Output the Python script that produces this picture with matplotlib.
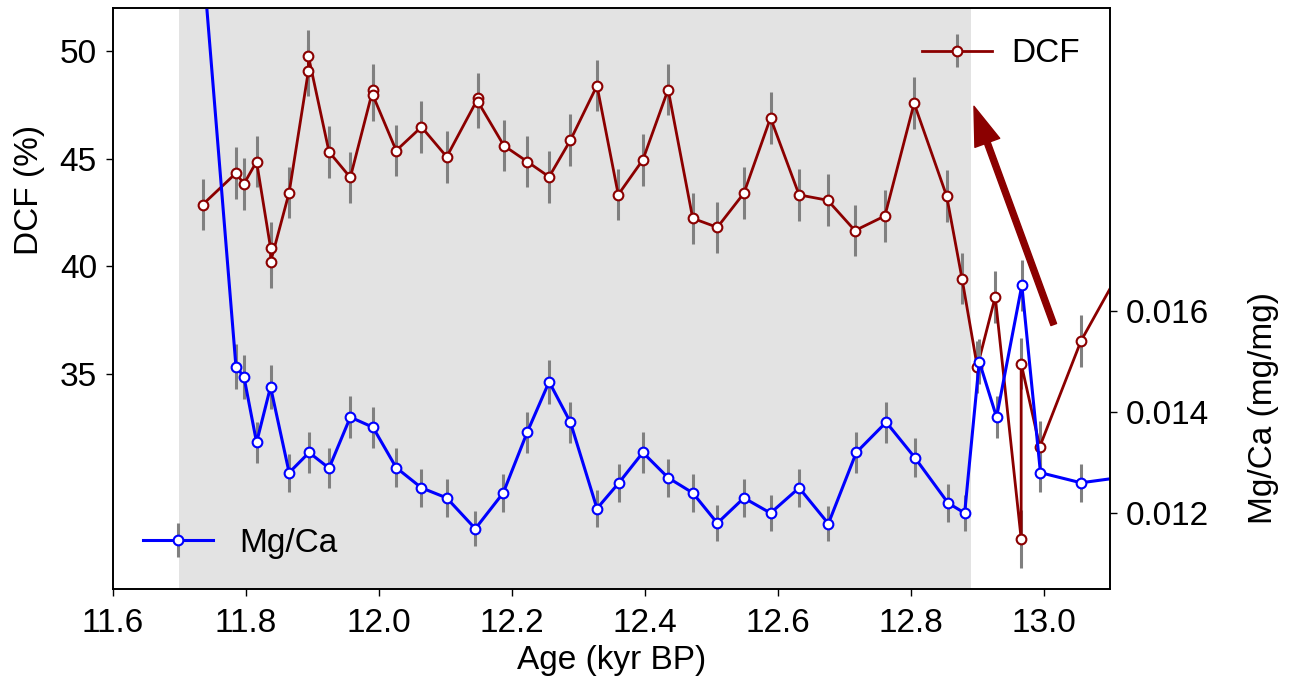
import numpy as np
import matplotlib as mpl
mpl.use('Agg')
import matplotlib.pyplot as plt

plt.rcParams['font.family'] = ['Liberation Sans', 'DejaVu Sans']

# DCF record
dcf_age = [11.735, 11.785, 11.797, 11.816, 11.837, 11.837, 11.865, 11.894, 11.894, 11.925,
           11.957, 11.991, 11.991, 12.026, 12.064, 12.102, 12.149, 12.149, 12.188, 12.223,
           12.256, 12.288, 12.328, 12.360, 12.397, 12.435, 12.472, 12.509, 12.549, 12.589,
           12.632, 12.675, 12.716, 12.761, 12.805, 12.854, 12.877, 12.900, 12.927, 12.966,
           12.966, 12.994, 13.056, 13.14]
dcf = [42.87, 44.33, 43.83, 44.87, 40.86, 40.19, 43.43, 49.10, 49.77, 45.32,
       44.13, 48.22, 47.95, 45.38, 46.48, 45.09, 47.81, 47.65, 45.61, 44.87,
       44.16, 45.86, 48.40, 43.33, 44.95, 48.22, 42.23, 41.81, 43.40, 46.90,
       43.32, 43.07, 41.66, 42.34, 47.58, 43.26, 39.43, 35.32, 38.58, 27.32,
       35.47, 31.61, 36.53, 41.2]
dcf_err = [1.2, 1.2, 1.2, 1.2, 1.2, 1.2, 1.2, 1.2, 1.2, 1.2,
           1.2, 1.2, 1.2, 1.2, 1.2, 1.2, 1.2, 1.2, 1.2, 1.2,
           1.2, 1.2, 1.2, 1.2, 1.2, 1.2, 1.2, 1.2, 1.2, 1.2,
           1.2, 1.2, 1.2, 1.2, 1.2, 1.2, 1.2, 1.2, 1.2, 1.35,
           1.2, 1.2, 1.2, 1.2]

# Mg/Ca record
mg_age = [11.735, 11.785, 11.797, 11.816, 11.837, 11.865, 11.895, 11.925, 11.957, 11.991,
          12.026, 12.064, 12.102, 12.145, 12.187, 12.223, 12.256, 12.288, 12.328, 12.361,
          12.397, 12.435, 12.472, 12.509, 12.549, 12.589, 12.632, 12.676, 12.718, 12.763,
          12.806, 12.856, 12.881, 12.903, 12.929, 12.967, 12.995, 13.056, 13.14]
mg = [0.0230, 0.01490, 0.01470, 0.01340, 0.01450, 0.01280, 0.01320, 0.01289, 0.01390, 0.01370,
      0.01290, 0.01250, 0.01230, 0.01169, 0.01240, 0.01360, 0.01460, 0.01380, 0.01209, 0.01260,
      0.01320, 0.01270, 0.01240, 0.01180, 0.01230, 0.01200, 0.01250, 0.01179, 0.01320, 0.01380,
      0.01310, 0.01220, 0.01200, 0.01500, 0.01390, 0.01651, 0.01280, 0.01260, 0.01275]
mg_err = [0.00069, 0.00045, 0.00044, 0.00040, 0.00044, 0.00038, 0.00040, 0.00039, 0.00042, 0.00041,
          0.00039, 0.00038, 0.00037, 0.00035, 0.00037, 0.00041, 0.00044, 0.00041, 0.00036, 0.00038,
          0.00040, 0.00038, 0.00037, 0.00035, 0.00037, 0.00036, 0.00038, 0.00035, 0.00040, 0.00041,
          0.00039, 0.00037, 0.00036, 0.00045, 0.00042, 0.00050, 0.00038, 0.00038, 0.00038]

xticks = [11.6, 11.8, 12.0, 12.2, 12.4, 12.6, 12.8, 13.0]
dcf_ticks = [35, 40, 45, 50]
mg_ticks = [0.012, 0.014, 0.016]
shade = (11.7, 12.89)

red = '#8B0000'
blue = '#0000FF'
fs = 24

fig = plt.figure(figsize=(12.91, 6.76), dpi=100)
ax = fig.add_axes([0.0875, 0.129, 0.7725, 0.8588])
ax.axvspan(shade[0], shade[1], color='#e3e3e3', lw=0, zorder=0)

l1 = ax.errorbar(dcf_age, dcf, yerr=dcf_err, fmt='-o', color=red, lw=2, ms=7,
                 mfc='white', mec=red, mew=1.5, ecolor='#808080', elinewidth=2.2)
ax.set_xlim(11.6, 13.1)
ax.set_ylim(25, 52)
ax.set_xticks(xticks)
ax.set_xticklabels(['%.1f' % t for t in xticks])
ax.set_yticks(dcf_ticks)
ax.set_xlabel('Age (kyr BP)', fontsize=fs, labelpad=4)
ax.set_ylabel('DCF (%)', fontsize=fs)
ax.yaxis.set_label_coords(-0.068, 0.687)
ax.tick_params(labelsize=fs, length=5, width=1)
ax.tick_params(axis='y', pad=6.5)
ax.tick_params(axis='x', pad=9)

ax.annotate('', xy=(12.895, 47.44), xytext=(13.015, 37.29),
            arrowprops=dict(color=red, width=4.3, headwidth=19, headlength=28, shrink=0))

ax.legend([l1], ['DCF'], loc='upper right', frameon=False,
          fontsize=fs, handlelength=2.1, handletextpad=0.6)

ax2 = ax.twinx()
l2 = ax2.errorbar(mg_age, mg, yerr=mg_err, fmt='-o', color=blue, lw=2.2, ms=7,
                  mfc='white', mec=blue, mew=1.5, ecolor='#808080', elinewidth=2.2)
ax2.set_ylim(0.0105, 0.0220)
ax2.set_yticks(mg_ticks)
ax2.set_yticklabels(['%.3f' % t for t in mg_ticks])
ax2.set_ylabel('Mg/Ca (mg/mg)', fontsize=fs)
ax2.yaxis.set_label_coords(1.138, 0.311)
ax2.tick_params(labelsize=fs, length=5, width=1, pad=6.5)
ax2.legend([l2], ['Mg/Ca'], loc='lower left', frameon=False,
           fontsize=fs, handlelength=2.1, handletextpad=0.8)

for a in (ax, ax2):
    for s in a.spines.values():
        s.set_linewidth(1.2)

fig.savefig('out.png', dpi=100)
